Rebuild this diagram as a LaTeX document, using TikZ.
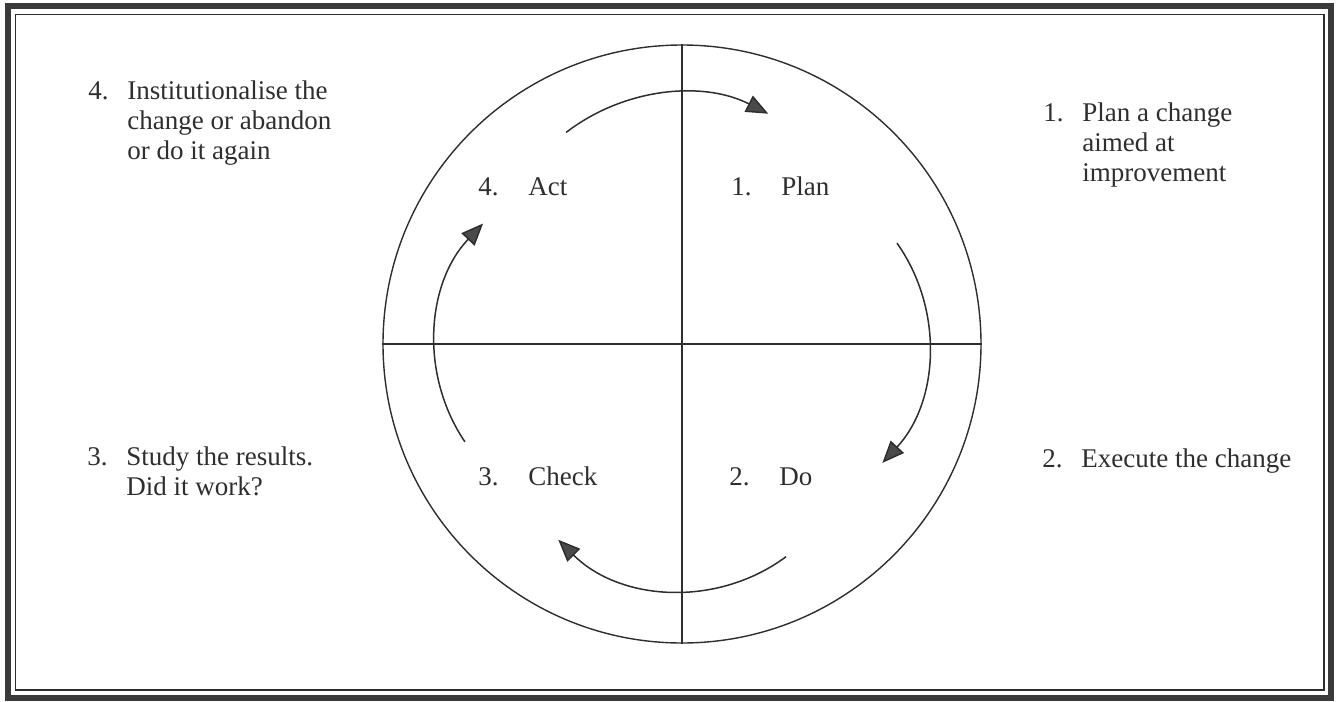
\documentclass[tikz,border=0pt]{standalone}
\usepackage{fontspec}
\setmainfont{Liberation Serif}
\usetikzlibrary{arrows.meta}
\definecolor{ink}{HTML}{2E2E2E}
\definecolor{tip}{HTML}{4A4A4A}
\definecolor{frame}{HTML}{3A3A3A}
\tikzset{
  every node/.style={font=\fontsize{13.5}{15}\selectfont,text=ink,inner sep=0pt},
  wheel/.style={draw=ink,circle,line width=0.7pt,minimum size=299pt,inner sep=0pt},
  axis/.style={draw=ink,line width=0.7pt},
  cyclearrow/.style={draw=ink,line width=0.75pt,-{Triangle[length=11pt,width=9pt,fill=tip]}},
  phase/.style={anchor=base west},
  step note/.style={anchor=base west,align=left},
}
\newcommand{\inum}[2]{\makebox[25pt][l]{#1}#2}
\newcommand{\onum}[1]{\makebox[19.5pt][l]{#1}}
\newcommand{\oind}{\hspace*{19.5pt}}

\begin{document}
\begin{tikzpicture}[x=0.5pt,y=0.5pt]
\useasboundingbox (0,0) rectangle (1340,-702);

% double frame
\draw[frame,line width=2.6pt] (8,-6) rectangle (1331,-698);
\draw[ink,line width=0.75pt] (15.5,-14.5) rectangle (1324,-690);

% wheel and quadrants
\coordinate (c) at (682,-344);
\node[wheel] (pdca) at (c) {};
\draw[axis] (pdca.north) -- (pdca.south);
\draw[axis,line width=1pt] (pdca.west) -- (pdca.east);

% cycle arrows (each arc bulges out along its axis)
\draw[cyclearrow] ([shift={(90:61)}]c) ++(127.6:190) arc[start angle=127.6,end angle=63,radius=190];
\draw[cyclearrow] ([shift={(0:72)}]c) ++(35.2:175) arc[start angle=35.2,end angle=-42.8,radius=175];
\draw[cyclearrow] ([shift={(-90:72)}]c) ++(-53.5:175) arc[start angle=-53.5,end angle=-135,radius=175];
\draw[cyclearrow] ([shift={(180:72)}]c) ++(214:175) arc[start angle=214,end angle=136.5,radius=175];

% quadrant names
\node[phase] (act) at (478,-195) {\inum{4.}{Act}};
\node[phase] (plan) at (731,-195) {\inum{1.}{Plan}};
\node[phase] (check) at (478,-485) {\inum{3.}{Check}};
\node[phase] (do) at (729,-485) {\inum{2.}{Do}};

% notes outside the wheel (base = last line)
\node[step note] (institutionalise) at (88,-159) {\onum{4.}Institutionalise the\\\oind change or abandon\\\oind or do it again};
\node[step note] (improve) at (1043,-181) {\onum{1.}Plan a change\\\oind aimed at\\\oind improvement};
\node[step note] (execute) at (1042,-467) {\onum{2.}Execute the change};
\node[step note] (study) at (87,-495) {\onum{3.}Study the results.\\\oind Did it work?};

\end{tikzpicture}
\end{document}
